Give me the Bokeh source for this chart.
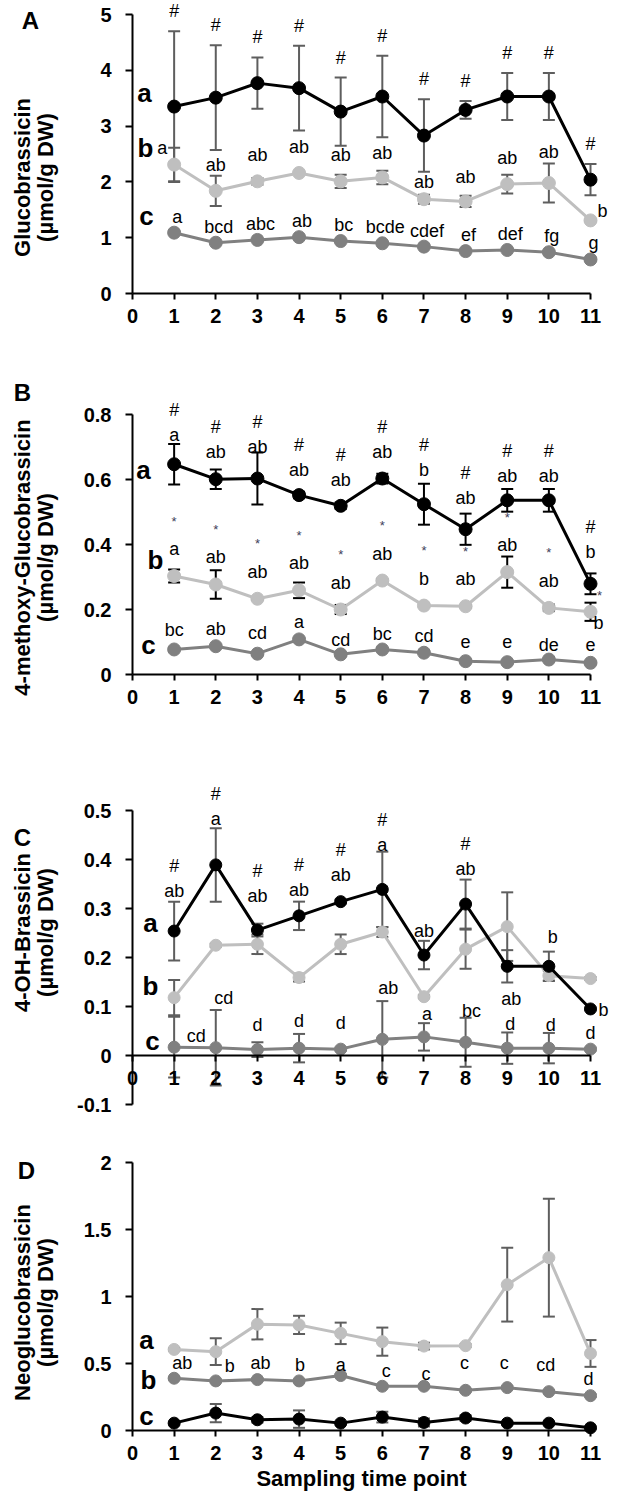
import math
from bokeh.plotting import figure
from bokeh.models import ColumnDataSource, LabelSet, FixedTicker, Whisker, TeeHead, Range1d
from bokeh.layouts import column
from bokeh.embed import file_html
from bokeh.resources import INLINE
from bokeh.core.properties import value

# ---------------- data ----------------
sampling_point = [1, 2, 3, 4, 5, 6, 7, 8, 9, 10, 11]
x_ticks = [0, 1, 2, 3, 4, 5, 6, 7, 8, 9, 10, 11]
x_title = "Sampling time point"
unit_line = "(µmol/g DW)"
group_letters = ["a", "b", "c"]

# Panel A - Glucobrassicin
glu_name = "Glucobrassicin"
glu_yticks = [0, 1, 2, 3, 4, 5]
glu_a_mean = [3.35, 3.51, 3.77, 3.68, 3.26, 3.53, 2.83, 3.29, 3.53, 3.53, 2.04]
glu_a_sd = [1.35, 0.94, 0.46, 0.76, 0.61, 0.73, 0.65, 0.16, 0.42, 0.42, 0.28]
glu_b_mean = [2.31, 1.84, 2.01, 2.16, 2.01, 2.08, 1.69, 1.65, 1.96, 1.98, 1.31]
glu_b_sd = [0.30, 0.27, 0.06, 0.02, 0.12, 0.12, 0.08, 0.10, 0.17, 0.35, 0.02]
glu_c_mean = [1.09, 0.91, 0.96, 1.01, 0.94, 0.90, 0.84, 0.76, 0.78, 0.74, 0.61]
glu_c_sd = [0.02, 0.02, 0.02, 0.02, 0.02, 0.02, 0.02, 0.02, 0.02, 0.02, 0.02]
glu_hash = ["#", "#", "#", "#", "#", "#", "#", "#", "#", "#", "#"]
glu_b_letters = ["a", "ab", "ab", "ab", "ab", "ab", "ab", "ab", "ab", "ab", "b"]
glu_c_letters = ["a", "bcd", "abc", "ab", "bc", "bcde", "cdef", "ef", "def", "fg", "g"]

# Panel B - 4-methoxy-Glucobrassicin
meth_name = "4-methoxy-Glucobrassicin"
meth_yticks = [0, 0.2, 0.4, 0.6, 0.8]
meth_a_mean = [0.647, 0.601, 0.603, 0.552, 0.519, 0.603, 0.524, 0.447, 0.536, 0.536, 0.279]
meth_a_sd = [0.062, 0.030, 0.080, 0.010, 0.010, 0.015, 0.063, 0.048, 0.035, 0.035, 0.032]
meth_b_mean = [0.303, 0.277, 0.233, 0.259, 0.200, 0.289, 0.212, 0.210, 0.315, 0.205, 0.193]
meth_b_sd = [0.020, 0.044, 0.004, 0.024, 0.014, 0.004, 0.004, 0.004, 0.048, 0.010, 0.028]
meth_c_mean = [0.077, 0.087, 0.064, 0.108, 0.062, 0.077, 0.067, 0.041, 0.038, 0.046, 0.036]
meth_c_sd = [0.004, 0.004, 0.004, 0.004, 0.004, 0.004, 0.004, 0.004, 0.004, 0.004, 0.004]
meth_hash = ["#", "#", "#", "#", "#", "#", "#", "#", "#", "#", "#"]
meth_a_letters = ["a", "ab", "ab", "ab", "ab", "ab", "b", "ab", "ab", "ab", "b"]
meth_star = ["*", "*", "*", "*", "*", "*", "*", "*", "*", "*", "*"]
meth_b_letters = ["a", "ab", "ab", "ab", "ab", "ab", "b", "ab", "ab", "ab", "b"]
meth_c_letters = ["bc", "ab", "cd", "a", "cd", "bc", "cd", "e", "e", "de", "e"]

# Panel C - 4-OH-Brassicin
oh_name = "4-OH-Brassicin"
oh_yticks = [-0.1, 0, 0.1, 0.2, 0.3, 0.4, 0.5]
oh_a_mean = [0.254, 0.389, 0.256, 0.285, 0.314, 0.339, 0.205, 0.309, 0.182, 0.182, 0.095]
oh_a_sd = [0.060, 0.075, 0.013, 0.029, 0.004, 0.077, 0.029, 0.050, 0.033, 0.030, 0.003]
oh_b_mean = [0.118, 0.225, 0.227, 0.159, 0.227, 0.252, 0.120, 0.217, 0.263, 0.163, 0.157]
oh_b_sd = [0.036, 0.003, 0.020, 0.008, 0.020, 0.010, 0.003, 0.040, 0.070, 0.010, 0.003]
oh_c_mean = [0.017, 0.016, 0.012, 0.015, 0.013, 0.033, 0.038, 0.027, 0.015, 0.015, 0.013]
oh_c_sd = [0.062, 0.077, 0.015, 0.029, 0.003, 0.078, 0.028, 0.050, 0.032, 0.031, 0.003]
oh_hash = ["#", "#", "#", "#", "#", "#", "", "#", "", "", ""]
oh_a_letters = ["ab", "a", "ab", "ab", "ab", "a", "ab", "ab", "ab", "b", "b"]
oh_c_letters = ["cd", "cd", "d", "d", "d", "ab", "a", "bc", "d", "d", "d"]

# Panel D - Neoglucobrassicin
neo_name = "Neoglucobrassicin"
neo_yticks = [0, 0.5, 1, 1.5, 2]
neo_a_mean = [0.605, 0.588, 0.793, 0.788, 0.725, 0.663, 0.630, 0.633, 1.088, 1.290, 0.575]
neo_a_sd = [0.010, 0.100, 0.113, 0.068, 0.080, 0.105, 0.025, 0.010, 0.275, 0.440, 0.100]
neo_b_mean = [0.39, 0.37, 0.38, 0.37, 0.41, 0.33, 0.33, 0.30, 0.32, 0.29, 0.26]
neo_b_sd = [0.01, 0.01, 0.01, 0.01, 0.01, 0.01, 0.01, 0.01, 0.01, 0.01, 0.01]
neo_c_mean = [0.055, 0.130, 0.080, 0.085, 0.055, 0.100, 0.060, 0.093, 0.055, 0.055, 0.020]
neo_c_sd = [0.010, 0.068, 0.020, 0.065, 0.010, 0.040, 0.030, 0.020, 0.010, 0.010, 0.010]
neo_b_letters = ["ab", "b", "ab", "b", "a", "c", "c", "c", "c", "cd", "d"]

# ---------------- style / layout ----------------
FONT = "Liberation Sans"
C_BLACK = "#000000"
C_LIGHT = "#BFBFBF"
C_MID = "#808080"
C_ERR = "#5E5E5E"
C_STAR = "#40405A"

PAGE_M = 8
CANVAS_W = 609
AXIS_X = 140     # page x where x = 0
AXIS_W = 458     # page px from x = 0 to x = 11


def px_x(px):
    return (px - AXIS_X) * 11.0 / AXIS_W


def px_y(g, py):
    return g["y0"] + (g["top"] + g["h"] - py) * (g["y1"] - g["y0"]) / g["h"]


def make_panel(fig_top, fig_bottom, plot_top, plot_h, yr, yticks):
    g = dict(top=plot_top, h=plot_h, y0=yr[0], y1=yr[1])
    p = figure(frame_width=CANVAS_W, frame_height=fig_bottom - fig_top,
               x_range=Range1d(px_x(PAGE_M), px_x(PAGE_M + CANVAS_W)),
               y_range=Range1d(px_y(g, fig_bottom), px_y(g, fig_top)),
               output_backend="svg", toolbar_location=None, title=None,
               min_border=0, min_border_left=0, min_border_right=0,
               min_border_top=0, min_border_bottom=0)
    p.outline_line_color = None
    p.xgrid.visible = False
    p.ygrid.visible = False
    for ax in (p.xaxis, p.yaxis):
        ax.axis_line_width = 2
        ax.axis_line_color = "black"
        ax.major_tick_line_width = 2
        ax.major_tick_line_color = "black"
        ax.major_tick_in = 0
        ax.minor_tick_line_color = None
        ax.major_label_text_font = FONT
        ax.major_label_text_font_size = "20px"
        ax.major_label_text_font_style = "bold"
        ax.major_label_text_color = "black"
    p.xaxis.fixed_location = 0
    p.xaxis.bounds = (0, 11)
    p.xaxis.ticker = FixedTicker(ticks=x_ticks)
    p.xaxis.major_tick_out = 6
    p.xaxis.major_label_standoff = 9
    p.yaxis.fixed_location = 0
    p.yaxis.bounds = (yr[0], yr[1])
    p.yaxis.ticker = FixedTicker(ticks=yticks)
    p.yaxis.major_tick_out = 7
    p.yaxis.major_label_standoff = 14
    p.yaxis.major_label_overrides = {t: f"{t:g}" for t in yticks}
    return p, g


def draw_series(p, mean, sd, color, err_color, size):
    up = [m + s for m, s in zip(mean, sd)]
    lo = [m - s for m, s in zip(mean, sd)]
    src = ColumnDataSource(dict(x=sampling_point, y=mean, upper=up, lower=lo))
    head = dict(size=12, line_color=err_color, line_width=2)
    p.add_layout(Whisker(source=src, base="x", upper="upper", lower="lower",
                         line_color=err_color, line_width=2,
                         upper_head=TeeHead(**head), lower_head=TeeHead(**head)))
    p.line("x", "y", source=src, line_color=color, line_width=3)
    p.scatter("x", "y", source=src, size=size, fill_color=color, line_color=color)
    return up, lo


def add_text(p, xs, ys, texts, dx=0, dy=0, size=18, color="black", bold=False, angle=0.0):
    n = len(texts)
    dxl = list(dx) if isinstance(dx, (list, tuple)) else [dx] * n
    dyl = list(dy) if isinstance(dy, (list, tuple)) else [dy] * n
    src = ColumnDataSource(dict(x=list(xs), y=list(ys), t=list(texts), dx=dxl, dy=dyl))
    p.add_layout(LabelSet(x="x", y="y", text="t", x_offset="dx", y_offset="dy", source=src,
                          text_align="center", text_baseline="middle", angle=angle,
                          text_font=value(FONT), text_font_size=f"{size}px",
                          text_color=color, text_font_style="bold" if bold else "normal"))


def decorate(p, g, letter, letter_pos, name, title_cy, group_pos):
    add_text(p, [px_x(letter_pos[0])], [px_y(g, letter_pos[1])], [letter], size=24, bold=True)
    add_text(p, [px_x(30), px_x(53)], [px_y(g, title_cy)] * 2, [name, unit_line],
             size=22, bold=True, angle=math.pi / 2)
    add_text(p, [px_x(x) for x, _ in group_pos], [px_y(g, y) for _, y in group_pos],
             group_letters, size=26, bold=True)


# ---------------- Panel A ----------------
pA, gA = make_panel(8, 360, 22, 279, (0, 5), glu_yticks)
draw_series(pA, glu_c_mean, glu_c_sd, C_MID, C_ERR, 13)
draw_series(pA, glu_b_mean, glu_b_sd, C_LIGHT, C_ERR, 13)
upA, _ = draw_series(pA, glu_a_mean, glu_a_sd, C_BLACK, C_ERR, 13)
add_text(pA, sampling_point, upA, glu_hash, dy=20)
add_text(pA, sampling_point, glu_b_mean, glu_b_letters,
         dx=[-12, 0, 0, 0, 0, 0, 0, 0, 0, 0, 12],
         dy=[17, 26, 26, 26, 26, 24, 17, 24, 26, 31, 9])
add_text(pA, sampling_point, glu_c_mean, glu_c_letters, dx=3, dy=16)
decorate(pA, gA, "A", (38, 28), glu_name, 185, [(152, 100), (153, 155), (154, 223)])

# ---------------- Panel B ----------------
pB, gB = make_panel(360, 745, 422, 260, (0, 0.8), meth_yticks)
draw_series(pB, meth_c_mean, meth_c_sd, C_MID, C_BLACK, 13)
draw_series(pB, meth_b_mean, meth_b_sd, C_LIGHT, C_BLACK, 13)
upB, _ = draw_series(pB, meth_a_mean, meth_a_sd, C_BLACK, C_BLACK, 13)
dyB = [9, 17, 6, 22, 23, 22, 14, 16, 13, 13, 21]
add_text(pB, sampling_point, upB, meth_a_letters, dy=dyB)
add_text(pB, sampling_point, upB, meth_hash, dy=[d + 25 for d in dyB])
add_text(pB, sampling_point, meth_b_mean, meth_b_letters,
         dx=[0, 0, 0, 0, 0, 0, 0, 0, 0, 0, 8],
         dy=[27, 27, 27, 27, 27, 27, 27, 27, 27, 27, -11])
add_text(pB, sampling_point, meth_b_mean, meth_star,
         dx=[0, 0, 0, 0, 0, 0, 0, 0, 0, 0, 9],
         dy=[55, 55, 55, 55, 55, 55, 55, 55, 55, 55, 16], size=13, color=C_STAR)
add_text(pB, sampling_point, meth_c_mean, meth_c_letters,
         dy=[19, 17, 21, 17, 14, 15, 17, 20, 21, 15, 18])
decorate(pB, gB, "B", (30, 400), meth_name, 565, [(151, 477), (163, 567), (156, 652)])

# ---------------- Panel C ----------------
pC, gC = make_panel(745, 1154, 818, 294, (-0.1, 0.5), oh_yticks)
draw_series(pC, oh_c_mean, oh_c_sd, C_MID, C_ERR, 12)
draw_series(pC, oh_b_mean, oh_b_sd, C_LIGHT, C_ERR, 12)
upC, _ = draw_series(pC, oh_a_mean, oh_a_sd, C_BLACK, C_ERR, 12)
dyC = [11, 9, 28, 12, 25, 7, 10, 11, -49, 15, -3]
add_text(pC, sampling_point, upC, oh_a_letters,
         dx=[0, 0, 0, 0, 0, 0, 0, 0, 4, 4, 13], dy=dyC)
add_text(pC, sampling_point, upC, oh_hash, dy=[d + 25 for d in dyC])
upCc = [m + s for m, s in zip(oh_c_mean, oh_c_sd)]
add_text(pC, sampling_point, upCc, oh_c_letters,
         dx=[22, 8, 0, 0, 0, 6, 3, 6, 3, 2, 0],
         dy=[-19, 12, 17, 13, 25, 13, 9, 7, 8, 8, 15])
decorate(pC, gC, "C", (30, 845), oh_name, 940, [(158, 930), (158, 993), (160, 1048)])

# ---------------- Panel D ----------------
pD, gD = make_panel(1154, 1500, 1170, 268, (0, 2), neo_yticks)
draw_series(pD, neo_a_mean, neo_a_sd, C_LIGHT, C_ERR, 12)
draw_series(pD, neo_b_mean, neo_b_sd, C_MID, C_ERR, 12)
draw_series(pD, neo_c_mean, neo_c_sd, C_BLACK, C_ERR, 12)
add_text(pD, sampling_point, neo_b_mean, neo_b_letters,
         dx=[8, 14, 3, 1, 0, 4, 2, -1, -3, -3, -2],
         dy=[15, 15, 17, 16, 11, 15, 12, 27, 25, 27, 17])
pD.xaxis.axis_label = x_title
pD.xaxis.axis_label_text_font = FONT
pD.xaxis.axis_label_text_font_size = "22px"
pD.xaxis.axis_label_text_font_style = "bold"
pD.xaxis.axis_label_text_color = "black"
pD.xaxis.axis_label_standoff = 3
decorate(pD, gD, "D", (34, 1178), neo_name, 1310, [(154, 1347), (156, 1387), (154, 1423)])

layout = column(pA, pB, pC, pD)
open("out.html", "w").write(file_html(layout, INLINE))
